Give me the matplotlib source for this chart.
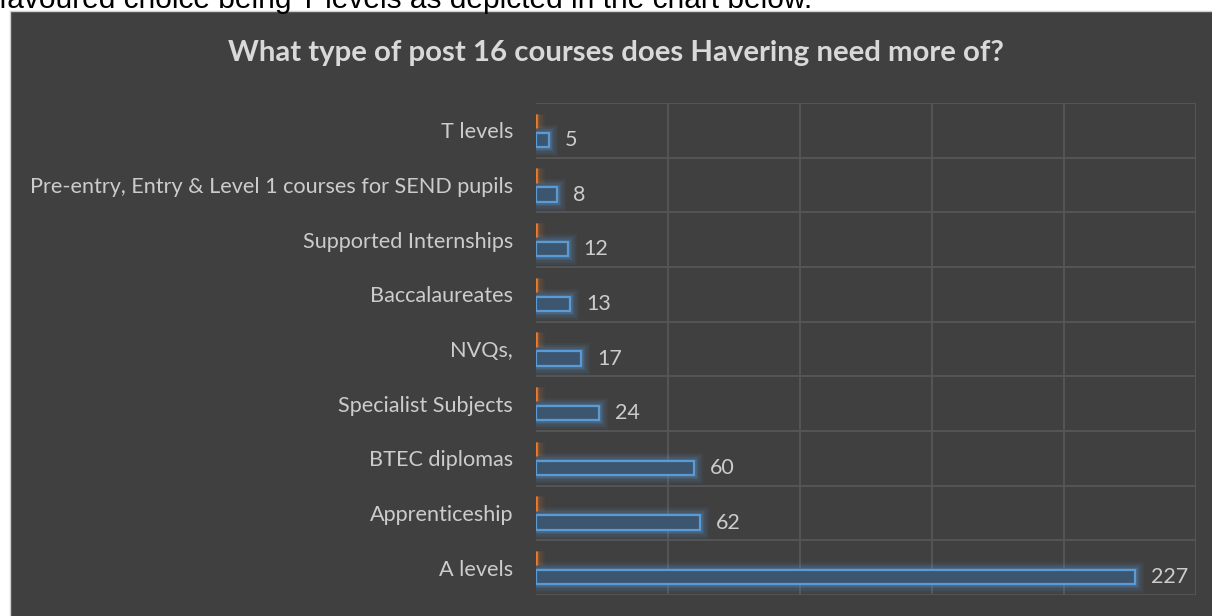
import numpy as np
import matplotlib
matplotlib.use("Agg")
import matplotlib.pyplot as plt
from matplotlib.patches import Rectangle

# data, top row of the chart first
categories = ["T levels", "Pre-entry, Entry & Level 1 courses for SEND pupils",
              "Supported Internships", "Baccalaureates", "NVQs,",
              "Specialist Subjects", "BTEC diplomas", "Apprenticeship", "A levels"]
counts = [5, 8, 12, 13, 17, 24, 60, 62, 227]
second_series = [0, 0, 0, 0, 0, 0, 0, 0, 0]   # empty orange series shown as ticks
xgrid = [50, 100, 150, 200, 250]

title = "What type of post 16 courses does Havering need more of?"
caption = "favoured choice being T levels as depicted in the chart below."

bg = "#404040"
blue_edge = "#5b9bd5"
blue_face = "#3c566f"
orange = "#ed7d31"
grid_col = "#575757"
txt = "#cccccc"

W, H = 1212, 616
fig = plt.figure(figsize=(W / 100, H / 100), dpi=100, facecolor="white")

# dark chart box with light border on the left/top
fig.patches.append(Rectangle((10 / W, -0.05), 1.05, 1.05 - 10.5 / H,
                             transform=fig.transFigure, facecolor=bg,
                             edgecolor="#cfcfcf", linewidth=1, zorder=-5))

fig.text(-1 / W, 1 - 8.5 / H, caption, fontsize=21.5, family="Liberation Sans",
         color="black", va="baseline", ha="left")
fig.text(616 / W, 1 - 61 / H, title, fontsize=21.2, family="Lato",
         fontweight="bold", color="#d9d9d9", ha="center", va="baseline")

ax = fig.add_axes([536 / W, 1 - 595 / H, 660 / W, 492 / H])
ax.set_zorder(2)
ax.set_facecolor(bg)
for s in ax.spines.values():
    s.set_visible(False)

n = len(categories)
ypos = np.arange(n)[::-1]
off = 0.174
h = 0.265

# glow around the bars
for lw, a in [(12, 0.07), (9, 0.1), (6, 0.14), (3.5, 0.2)]:
    ax.barh(ypos - off, counts, height=h, facecolor="none", edgecolor=blue_edge,
            linewidth=lw, alpha=a, zorder=2)
    ax.barh(ypos + off, second_series, height=h, facecolor="none", edgecolor=orange,
            linewidth=lw, alpha=a * 0.8, zorder=2)

ax.barh(ypos - off, counts, height=h, facecolor=blue_face, edgecolor=blue_edge,
        linewidth=1.6, zorder=3)
ax.barh(ypos + off, second_series, height=h, facecolor=orange, edgecolor=orange,
        linewidth=1.8, zorder=3)

for y, v in zip(ypos, counts):
    ax.annotate(str(v), (v, y - off), xytext=(11.5, 0), textcoords="offset points",
                va="center", ha="left", fontsize=15.5, family="Lato", color=txt)

ax.set_xlim(0, 250)
ax.set_ylim(-0.5, n - 0.5)
ax.set_xticks(xgrid)
ax.set_xticklabels([])
ax.set_yticks(ypos)
ax.set_yticklabels(categories, fontsize=15.6, family="Lato", color=txt)
ax.set_yticks(np.arange(-0.5, n, 1), minor=True)
ax.tick_params(axis="both", which="both", length=0)
ax.tick_params(axis="y", pad=16.5)
ax.grid(axis="x", which="major", color=grid_col, linewidth=1.3, zorder=0)
ax.grid(axis="y", which="minor", color=grid_col, linewidth=1.3, zorder=0)
ax.set_axisbelow(True)

fig.savefig("out.png", dpi=100, facecolor="white")
